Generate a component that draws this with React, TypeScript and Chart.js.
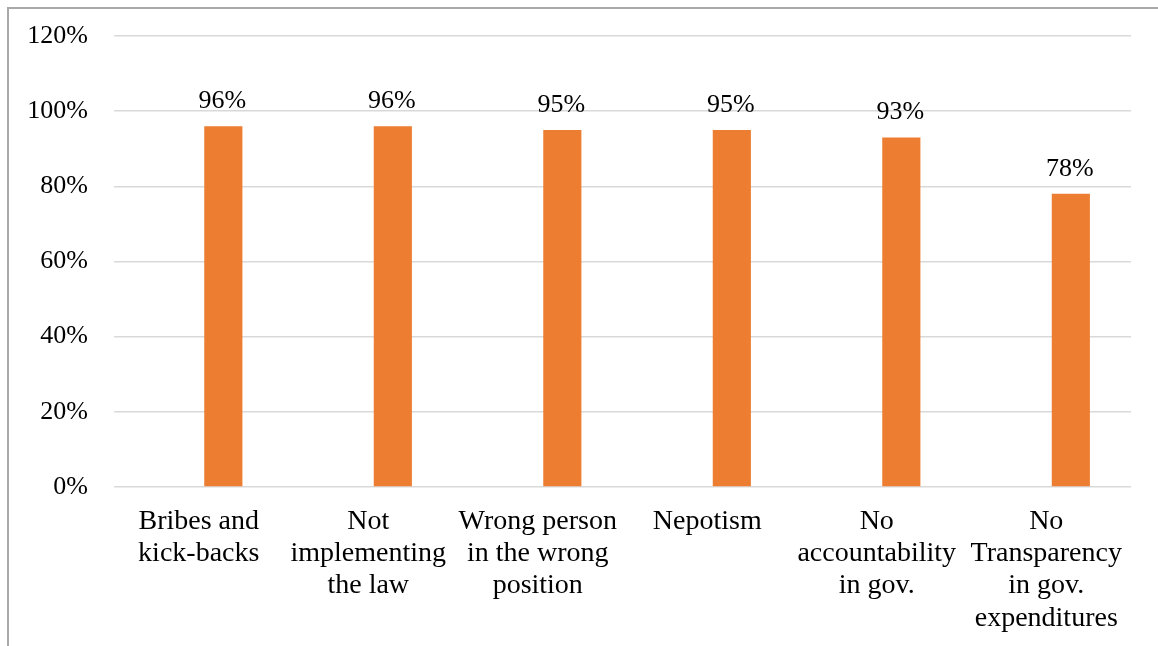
import React, { useEffect, useRef } from "react";
import { Chart, registerables } from "chart.js";

Chart.register(...registerables);

// Survey categories (multi-line axis labels)
const categories: string[][] = [
  ["Bribes and", "kick-backs"],
  ["Not", "implementing", "the law"],
  ["Wrong person", "in the wrong", "position"],
  ["Nepotism"],
  ["No", "accountability", "in gov."],
  ["No", "Transparency", "in gov.", "expenditures"],
];

// Share of respondents (%)
const shares: number[] = [96, 96, 95, 95, 93, 78];

// Empty leading series keeps the clustered-bar slot layout
const placeholder: (number | null)[] = [null, null, null, null, null, null];

// Value-axis ticks
const yMin = 0;
const yMax = 120;
const yStep = 20;

const FONT = "'Liberation Serif', 'Times New Roman', serif";
const ORANGE = "#ED7D31";
const GRID = "#d9d9d9";

const valueLabels = {
  id: "valueLabels",
  afterDatasetsDraw(chart: Chart) {
    const ctx = chart.ctx;
    const meta = chart.getDatasetMeta(1);
    ctx.save();
    ctx.font = `26px ${FONT}`;
    ctx.fillStyle = "#000";
    ctx.textAlign = "center";
    ctx.textBaseline = "alphabetic";
    meta.data.forEach((bar: any, i: number) => {
      const v = shares[i];
      ctx.fillText(`${v}%`, bar.x - 1, bar.y - 18);
    });
    ctx.restore();
  },
};

export default function App() {
  const canvasRef = useRef<HTMLCanvasElement | null>(null);

  useEffect(() => {
    if (!canvasRef.current) return;
    const chart = new Chart(canvasRef.current, {
      type: "bar",
      data: {
        labels: categories,
        datasets: [
          {
            label: "",
            data: placeholder,
            backgroundColor: ORANGE,
            categoryPercentage: 0.58,
            barPercentage: 0.776,
          },
          {
            label: "Share",
            data: shares,
            backgroundColor: ORANGE,
            categoryPercentage: 0.58,
            barPercentage: 0.776,
          },
        ],
      },
      options: {
        responsive: false,
        animation: false,
        layout: { padding: { left: 0, right: 27, top: 36, bottom: 0 } },
        plugins: {
          legend: { display: false },
          tooltip: { enabled: false },
        },
        scales: {
          x: {
            grid: { display: false, drawTicks: false },
            border: { display: false },
            ticks: {
              color: "#000",
              font: { family: FONT, size: 28, lineHeight: 1.155 },
              maxRotation: 0,
              autoSkip: false,
              padding: 18,
            },
            afterFit: (scale: any) => {
              scale.height = 159;
            },
          },
          y: {
            min: yMin,
            max: yMax,
            grid: { color: GRID, lineWidth: 1.5, drawTicks: false },
            border: { display: false },
            ticks: {
              stepSize: yStep,
              color: "#000",
              font: { family: FONT, size: 26 },
              padding: 26,
              callback: (v: any) => `${v}%`,
            },
            afterFit: (scale: any) => {
              scale.width = 114;
              scale.paddingTop = 0;
              scale.paddingBottom = 0;
            },
          },
        },
      },
      plugins: [valueLabels],
    });
    return () => chart.destroy();
  }, []);

  return (
    <div>
      <div
        style={{
          position: "fixed",
          left: 7,
          top: 7,
          width: 1160,
          height: 650,
          borderLeft: "2px solid #a9a9a9",
          borderTop: "2px solid #a9a9a9",
          boxSizing: "border-box",
        }}
      />
      <canvas
        ref={canvasRef}
        width={1158}
        height={646}
        style={{ position: "fixed", left: 0, top: 0, width: 1158, height: 646 }}
      />
    </div>
  );
}
